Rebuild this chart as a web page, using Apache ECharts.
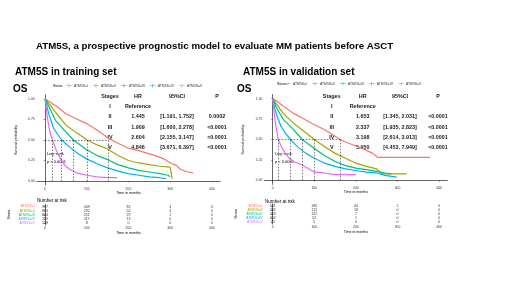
<!DOCTYPE html>
<html>
<head>
    <meta charset="utf-8">
    <style type="text/css">
        html,body { margin: 0px; padding: 0px; background: #fff; }
        #main { width: 520px; height: 292px; }
    </style>
    <script src="https://cdn.jsdelivr.net/npm/echarts@6/dist/echarts.min.js"></script>
</head>
<body>
<div id="main"></div>
<script type="text/javascript">
    // strata and colours
    var strata = ['ATM5S=I', 'ATM5S=II', 'ATM5S=III', 'ATM5S=IV', 'ATM5S=V'];
    var colors = ['#F8766D', '#A3A500', '#00BF7D', '#00B0F6', '#E76BF3'];
    var tickTimes = [0, 100, 200, 300, 400];
    var survTicks = [0, 0.25, 0.5, 0.75, 1];

    // training set curves [months, survival]
    var trainI = [[0,1],[10,0.97],[25,0.92],[50,0.82],[75,0.76],[100,0.70],[125,0.62],[152,0.52],[175,0.46],[200,0.40],[225,0.37],[250,0.33],[270,0.30],[285,0.27],[300,0.22],[315,0.19],[325,0.14],[343,0.11],[355,0.10]];
    var trainII = [[0,1],[10,0.94],[25,0.84],[50,0.68],[75,0.59],[101,0.50],[125,0.44],[150,0.39],[175,0.31],[200,0.25],[225,0.22],[250,0.20],[275,0.18],[300,0.17],[305,0.03]];
    var trainIII = [[0,1],[10,0.90],[25,0.74],[50,0.60],[68,0.50],[100,0.38],[125,0.31],[150,0.26],[175,0.20],[200,0.16],[225,0.13],[250,0.11],[275,0.09],[295,0.07],[300,0.05]];
    var trainIV = [[0,1],[5,0.90],[10,0.80],[20,0.65],[30,0.57],[40,0.50],[60,0.41],[80,0.33],[100,0.27],[125,0.21],[150,0.16],[175,0.12],[200,0.09],[225,0.07],[250,0.05],[275,0.04],[290,0.03]];
    var trainV = [[0,1],[3,0.88],[6,0.76],[10,0.64],[14,0.56],[18,0.50],[25,0.40],[30,0.34],[40,0.24],[50,0.18],[60,0.14],[75,0.10],[100,0.07],[125,0.05],[150,0.04],[173,0.04]];

    // validation set curves
    var validI = [[0,1],[10,0.97],[25,0.91],[50,0.82],[75,0.75],[100,0.68],[125,0.62],[150,0.54],[162,0.50],[175,0.47],[200,0.42],[225,0.37],[240,0.33],[253,0.28],[378,0.28]];
    var validII = [[0,1],[10,0.93],[25,0.82],[50,0.70],[75,0.60],[100,0.50],[125,0.41],[150,0.33],[175,0.27],[200,0.21],[225,0.17],[250,0.14],[262,0.08],[322,0.08]];
    var validIII = [[0,1],[10,0.88],[25,0.75],[50,0.62],[71,0.50],[100,0.39],[125,0.30],[150,0.23],[175,0.18],[200,0.15],[225,0.13],[250,0.11],[270,0.09],[285,0.08]];
    var validIV = [[0,1],[5,0.88],[10,0.79],[20,0.66],[30,0.58],[43,0.50],[60,0.41],[80,0.33],[100,0.27],[125,0.21],[150,0.17],[175,0.14],[200,0.12],[225,0.10],[250,0.09],[270,0.06],[298,0.04]];
    var validV = [[0,1],[3,0.85],[6,0.72],[10,0.60],[13.5,0.50],[20,0.42],[30,0.33],[40,0.27],[50,0.23],[65,0.20],[80,0.16],[100,0.10],[125,0.09],[150,0.07],[200,0.07]];

    // median survival
    var medTrain = [152, 101, 68, 40, 18];
    var medValid = [162, 100, 71, 43, 13.5];

    // HR tables
    var stages = ['I', 'II', 'III', 'IV', 'V'];
    var hrTrain = ['Reference', '1.445', '1.909', '2.604', '4.846'];
    var ciTrain = ['', '[1.191, 1.752]', '[1.600, 2.278]', '[2.155, 3.147]', '[3.671, 6.397]'];
    var pTrain = ['', '0.0002', '<0.0001', '<0.0001', '<0.0001'];
    var hrValid = ['Reference', '1.653', '2.337', '3.198', '5.950'];
    var ciValid = ['', '[1.345, 2.031]', '[1.935, 2.823]', '[2.614, 3.913]', '[4.453, 7.949]'];
    var pValid = ['', '<0.0001', '<0.0001', '<0.0001', '<0.0001'];

    // number at risk, one row per stratum, columns at tickTimes
    var riskTrain = [[957, 409, 82, 4, 0], [824, 292, 52, 4, 0], [884, 251, 29, 1, 0], [759, 117, 13, 0, 0], [158, 8, 0, 0, 0]];
    var riskValid = [[501, 180, 44, 2, 0], [335, 115, 18, 0, 0], [469, 122, 7, 0, 0], [302, 52, 1, 0, 0], [70, 5, 0, 0, 0]];

    var FONT = 'Liberation Sans';
    var myChart = echarts.init(document.getElementById('main'), null, {renderer: 'canvas'});

    function kmAxisX(idx) {
        return {
            type: 'value', gridIndex: idx, min: -20, max: 420,
            name: 'Time in months', nameLocation: 'middle', nameGap: 6,
            nameTextStyle: {fontSize: 3.6, color: '#000', fontFamily: FONT},
            splitLine: {show: false},
            axisLine: {lineStyle: {color: '#000', width: 0.6}},
            axisTick: {customValues: tickTimes, length: 1.5, lineStyle: {color: '#333', width: 0.5}},
            axisLabel: {customValues: tickTimes, fontSize: 3.4, margin: 2, color: '#333', fontFamily: FONT}
        };
    }
    function kmAxisY(idx) {
        return {
            type: 'value', gridIndex: idx, min: -0.05, max: 1.05,
            name: 'Survival probability', nameLocation: 'middle', nameGap: 19,
            nameTextStyle: {fontSize: 3.6, color: '#000', fontFamily: FONT},
            splitLine: {show: false},
            axisLine: {show: true, lineStyle: {color: '#000', width: 0.6}},
            axisTick: {show: true, customValues: survTicks, length: 1.5, lineStyle: {color: '#333', width: 0.5}},
            axisLabel: {customValues: survTicks, fontSize: 3.4, margin: 2, color: '#333', fontFamily: FONT,
                formatter: function (v) { return v.toFixed(2); }}
        };
    }
    function riskAxisX(idx) {
        var a = kmAxisX(idx);
        a.nameGap = 5;
        return a;
    }
    function riskAxisY(idx) {
        return {
            type: 'category', gridIndex: idx, data: strata, inverse: true,
            name: 'Strata', nameLocation: 'middle', nameGap: 26,
            nameTextStyle: {fontSize: 3.6, color: '#000', fontFamily: FONT},
            axisLine: {show: true, lineStyle: {color: '#000', width: 0.6}},
            axisTick: {show: true, length: 1.5, alignWithLabel: true, lineStyle: {color: '#333', width: 0.5}},
            axisLabel: {interval: 0, fontSize: 3.4, margin: 2, fontFamily: FONT, hideOverlap: false,
                color: function (v, i) { return colors[strata.indexOf(v)]; }}
        };
    }

    function curveSeries(data, k, gi, meds) {
        var s = {
            name: strata[k], type: 'line', xAxisIndex: gi, yAxisIndex: gi,
            data: data, showSymbol: false, symbol: 'none',
            lineStyle: {color: colors[k], width: 1.2}, itemStyle: {color: colors[k]},
            z: 3,
            markLine: {
                silent: true, symbol: 'none', label: {show: false},
                lineStyle: {color: '#222', type: [1.5, 1.5], width: 0.6},
                data: [[{coord: [meds[k], 0]}, {coord: [meds[k], 0.5]}]]
            }
        };
        if (k === 0) {
            s.markLine.data.push([{coord: [0, 0.5]}, {coord: [Math.max.apply(null, meds), 0.5]}]);
        }
        return s;
    }

    function riskSeries(rows, gi) {
        var d = [];
        rows.forEach(function (r, i) {
            r.forEach(function (n, j) { d.push([tickTimes[j], strata[i], n]); });
        });
        return {
            type: 'scatter', xAxisIndex: gi, yAxisIndex: gi, data: d, symbolSize: 0,
            label: {show: true, position: 'inside', fontSize: 3.6, color: '#000', fontFamily: FONT,
                formatter: function (p) { return p.value[2]; }},
            labelLayout: {hideOverlap: false}
        };
    }

    function tableText(cols, hr, ci, p) {
        var els = [];
        var ys = [96.7, 106.7, 117, 127.3, 137.7, 148];
        var head = ['Stages', 'HR', '95%CI', 'P'];
        var st = {fontSize: 5.4, fontWeight: 'bold', fill: '#222', fontFamily: FONT, align: 'center', verticalAlign: 'middle'};
        head.forEach(function (h, i) {
            els.push({type: 'text', x: cols[i], y: ys[0], style: Object.assign({text: h}, st)});
        });
        stages.forEach(function (s, r) {
            var vals = [s, hr[r], ci[r], p[r]];
            vals.forEach(function (v, i) {
                if (v) els.push({type: 'text', x: cols[i], y: ys[r + 1], style: Object.assign({text: v}, st)});
            });
        });
        return els;
    }

    function smallText(x, y, t, size) {
        return {type: 'text', x: x, y: y,
            style: {text: t, fontSize: size, fill: '#000', fontFamily: FONT, align: 'left', verticalAlign: 'middle'}};
    }

    var legendIcon = 'path://M0,4.5h10v1H0z M4.5,2h1v6h-1z';
    function legendAt(left, top) {
        return {
            left: left, top: top, data: strata, icon: legendIcon,
            itemWidth: 6, itemHeight: 4, itemGap: 5, padding: 0,
            textStyle: {fontSize: 3.4, color: '#333', fontFamily: FONT, padding: [0, 0, 0, -3]}
        };
    }

    var series = [];
    [trainI, trainII, trainIII, trainIV, trainV].forEach(function (d, k) { series.push(curveSeries(d, k, 0, medTrain)); });
    [validI, validII, validIII, validIV, validV].forEach(function (d, k) { series.push(curveSeries(d, k, 1, medValid)); });
    series.push(riskSeries(riskTrain, 2));
    series.push(riskSeries(riskValid, 3));

    var graphics = []
        .concat(tableText([110, 138, 177, 217], hrTrain, ciTrain, pTrain))
        .concat(tableText([331.7, 362.7, 400, 438], hrValid, ciValid, pValid));
    graphics.push(smallText(47, 153.5, 'Log\u2212rank', 4));
    graphics.push(smallText(47, 161.5, 'p < 0.0001', 4));
    graphics.push(smallText(275, 153.5, 'Log\u2212rank', 4));
    graphics.push(smallText(275, 161.5, 'p < 0.0001', 4));
    graphics.push(smallText(37, 201, 'Number at risk', 4.6));
    graphics.push(smallText(265, 202, 'Number at risk', 4.6));
    graphics.push(smallText(53, 86, 'Strata', 3.6));
    graphics.push(smallText(277, 84, 'Strata', 3.6));

    var titleStyle = {fontSize: 10, fontWeight: 'bold', color: '#000', fontFamily: FONT};
    var option = {
        backgroundColor: '#fff',
        animation: false,
        title: [
            {text: 'ATM5S, a prospective prognostic model to evaluate MM patients before ASCT', left: 36, top: 41, padding: 0,
                textStyle: Object.assign({}, titleStyle, {fontSize: 9.7})},
            {text: 'ATM5S in training set', left: 15, top: 67.5, padding: 0, textStyle: titleStyle},
            {text: 'OS', left: 13, top: 84.5, padding: 0, textStyle: titleStyle},
            {text: 'ATM5S in validation set', left: 243, top: 67.5, padding: 0, textStyle: titleStyle},
            {text: 'OS', left: 237, top: 84.5, padding: 0, textStyle: titleStyle}
        ],
        legend: [legendAt(66, 84), legendAt(285, 82)],
        grid: [
            {left: 36.7, top: 94.9, width: 183.5, height: 90.2},
            {left: 264.4, top: 94.6, width: 183, height: 89.8},
            {left: 36.7, top: 204.5, width: 183.5, height: 20.5},
            {left: 264.4, top: 204, width: 183, height: 20}
        ],
        xAxis: [kmAxisX(0), kmAxisX(1), riskAxisX(2), riskAxisX(3)],
        yAxis: [kmAxisY(0), kmAxisY(1), riskAxisY(2), riskAxisY(3)],
        graphic: graphics,
        series: series
    };

    myChart.setOption(option);
</script>
</body>
</html>
